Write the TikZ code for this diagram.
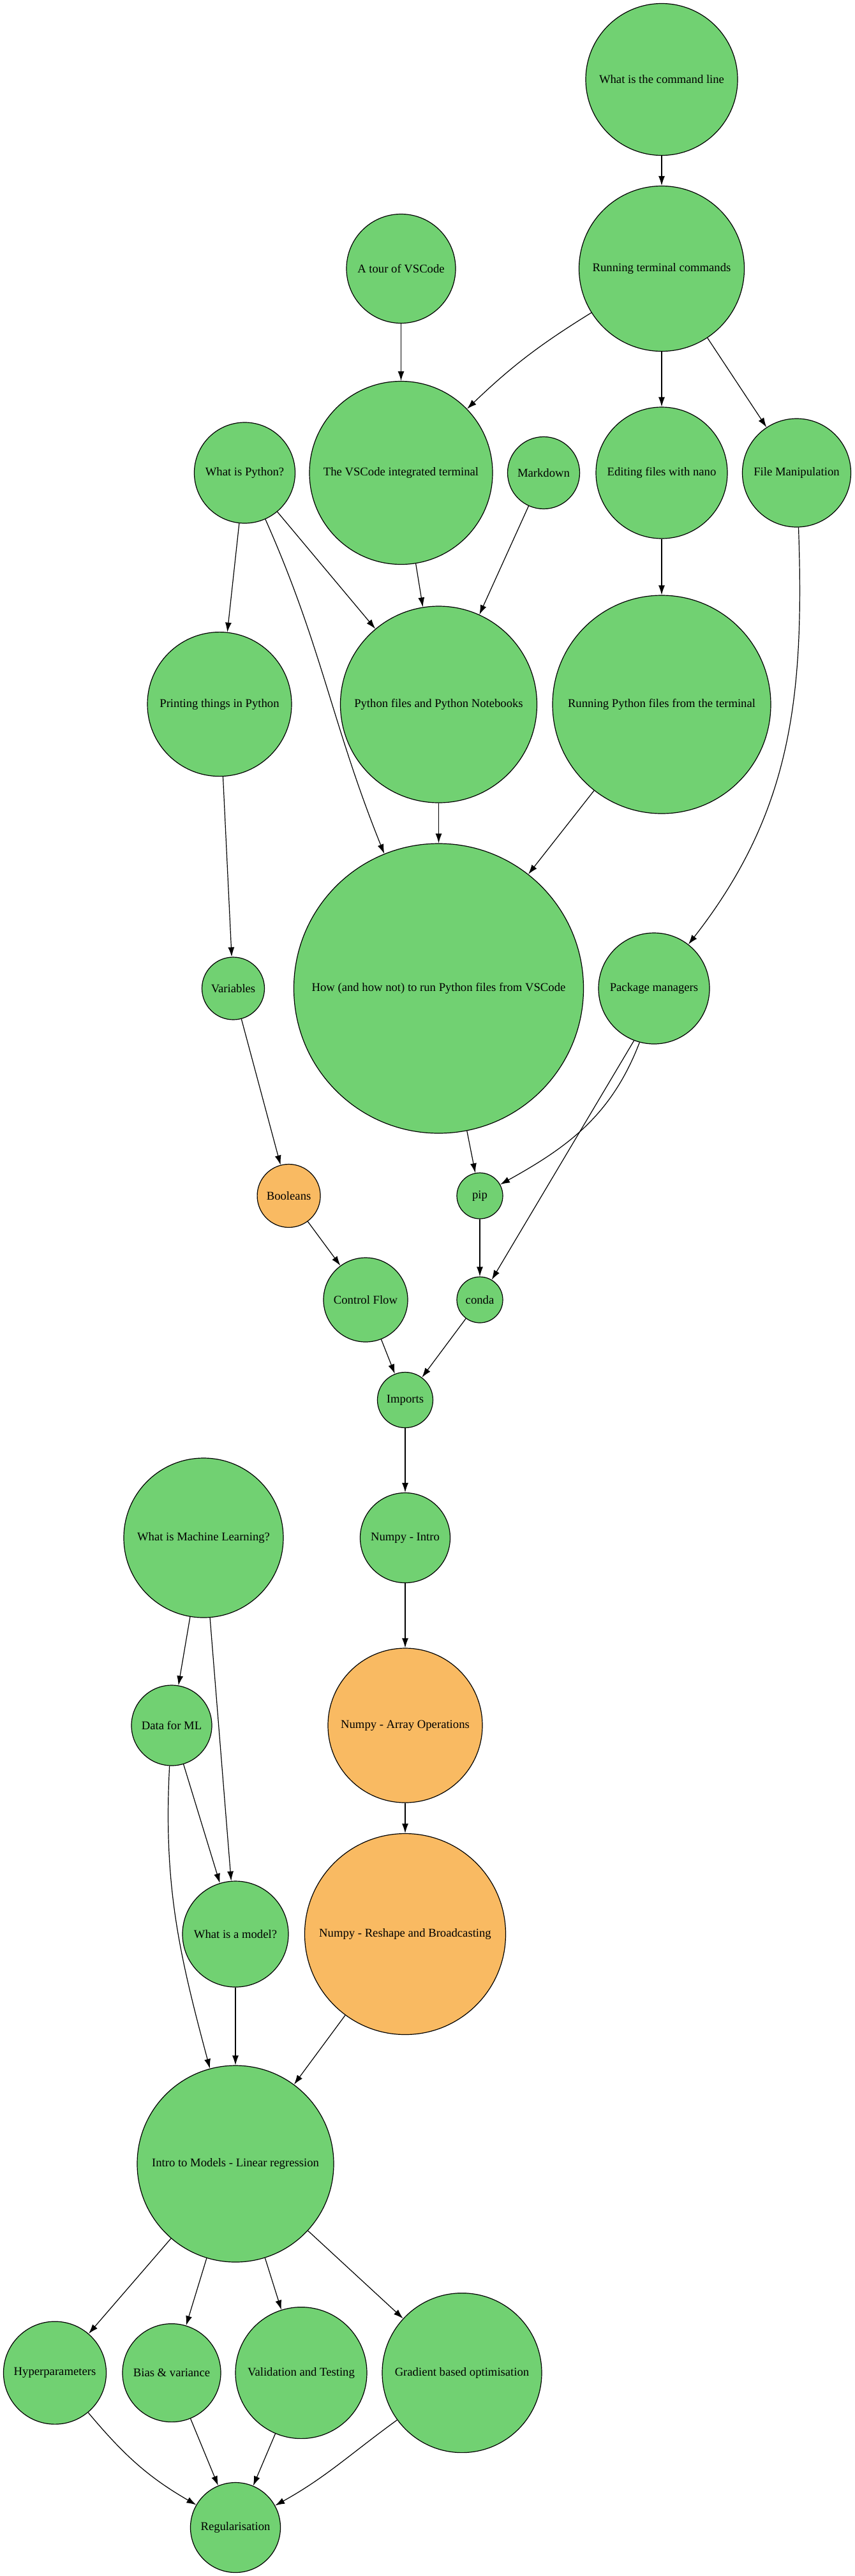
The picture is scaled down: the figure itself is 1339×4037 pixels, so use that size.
\documentclass[tikz,border=0pt]{standalone}
\usepackage{fontspec}
\setmainfont{Liberation Serif}
\usepackage{tikz}
\usetikzlibrary{shapes,arrows.meta}
\definecolor{topicgreen}{RGB}{113,209,114}
\definecolor{topicorange}{RGB}{249,186,98}
\tikzstyle{topic} = [circle, draw, fill=topicgreen, text centered, inner sep=0pt, line width=1.2pt,
font=\fontsize{18.67}{22}\selectfont]
\tikzstyle{optional} = [topic, fill=topicorange]
\tikzstyle{line} = [draw, line width=1.2pt, -{Latex[length=15pt,width=10pt]}]

\begin{document}
\begin{tikzpicture}[node distance=200pt, auto]
			\useasboundingbox (0,0) rectangle (1339pt,-4037pt);
			% command line and editor
			\node [topic, minimum size=238pt] (cmdline) at (1037pt,-124.5pt) {What is the command line};
			\node [topic, below of=cmdline, minimum size=259pt, node distance=296.5pt] (runterm) {Running terminal commands};
			\node [topic, below of=runterm, minimum size=206pt, node distance=320pt] (nano) {Editing files with nano};
			\node [topic, below of=nano, minimum size=342pt, node distance=363pt] (runpy) {Running Python files from the terminal};
			\node [topic, right of=nano, minimum size=170pt, node distance=211.5pt] (fileman) {File Manipulation};
			\node [topic, left of=runterm, minimum size=171pt, node distance=408.5pt] (tour) {A tour of VSCode};
			\node [topic, below of=tour, minimum size=287pt, node distance=320pt] (vsterm) {The VSCode integrated terminal};
			\node [topic, left of=vsterm, minimum size=158pt, node distance=245pt] (whatpy) {What is Python?};
			\node [topic, right of=vsterm, minimum size=113pt, node distance=223.5pt] (markdown) {Markdown};
			% python basics
			\node [topic, minimum size=226pt] (printing) at (344pt,-1103.6pt) {Printing things in Python};
			\node [topic, left of=runpy, minimum size=308pt, node distance=349.5pt] (pyfiles) {Python files and Python Notebooks};
			\node [topic, below of=pyfiles, minimum size=454pt, node distance=445pt] (howrun) {How (and how not) to run Python files from VSCode};
			\node [topic, left of=howrun, minimum size=98pt, node distance=322pt] (variables) {Variables};
			\node [topic, right of=howrun, minimum size=174pt, node distance=337.5pt] (pkgmgr) {Package managers};
			\node [optional, minimum size=99pt] (booleans) at (452.6pt,-1874pt) {Booleans};
			\node [topic, minimum size=72pt] (pip) at (752pt,-1874pt) {pip};
			\node [topic, below of=pip, minimum size=72pt, node distance=163pt] (conda) {conda};
			\node [topic, left of=conda, minimum size=132pt, node distance=179pt] (control) {Control Flow};
			\node [topic, minimum size=87pt] (imports) at (635pt,-2194pt) {Imports};
			% numpy and machine learning
			\node [topic, below of=imports, minimum size=141pt, node distance=216pt] (npintro) {Numpy - Intro};
			\node [topic, left of=npintro, minimum size=250pt, node distance=316pt] (whatml) {What is Machine Learning?};
			\node [optional, below of=npintro, minimum size=242pt, node distance=294pt] (nparray) {Numpy - Array Operations};
			\node [topic, left of=nparray, minimum size=126pt, node distance=366pt] (dataml) {Data for ML};
			\node [optional, below of=nparray, minimum size=315pt, node distance=327pt] (npreshape) {Numpy - Reshape and Broadcasting};
			\node [topic, left of=npreshape, minimum size=166pt, node distance=266pt] (model) {What is a model?};
			\node [topic, below of=model, minimum size=308pt, node distance=360pt] (linreg) {Intro to Models - Linear regression};
			\node [topic, minimum size=206pt] (valid) at (472pt,-3718.6pt) {Validation and Testing};
			\node [topic, left of=valid, minimum size=154pt, node distance=203pt] (bias) {Bias \& variance};
			\node [topic, left of=bias, minimum size=161pt, node distance=183pt] (hyper) {Hyperparameters};
			\node [topic, right of=valid, minimum size=250pt, node distance=252pt] (gradient) {Gradient based optimisation};
			\node [topic, below of=linreg, minimum size=141pt, node distance=570pt] (regul) {Regularisation};
			% edges
			\path [line] (cmdline) -- (runterm);
			\path [line] (runterm) to[bend right=6] (vsterm);
			\path [line] (runterm) -- (nano);
			\path [line] (runterm) -- (fileman);
			\path [line] (tour) -- (vsterm);
			\path [line] (whatpy) -- (printing);
			\path [line] (whatpy) -- (pyfiles);
			\path [line] (whatpy) to[out=-66, in=112] (howrun);
			\path [line] (vsterm) -- (pyfiles);
			\path [line] (markdown) -- (pyfiles);
			\path [line] (nano) -- (runpy);
			\path [line] (fileman) to[out=-88, in=52] (pkgmgr);
			\path [line] (printing) -- (variables);
			\path [line] (pyfiles) -- (howrun);
			\path [line] (runpy) -- (howrun);
			\path [line] (variables) -- (booleans);
			\path [line] (howrun) -- (pip);
			\path [line] (pkgmgr.-105) to[out=-111, in=29] (pip);
			\path [line] (pkgmgr.-111) -- (conda);
			\path [line] (pip) -- (conda);
			\path [line] (booleans) -- (control);
			\path [line] (control) -- (imports);
			\path [line] (conda) -- (imports);
			\path [line] (imports) -- (npintro);
			\path [line] (npintro) -- (nparray);
			\path [line] (nparray) -- (npreshape);
			\path [line] (whatml) -- (dataml);
			\path [line] (whatml) -- (model);
			\path [line] (dataml) -- (model);
			\path [line] (dataml) to[out=-93, in=105] (linreg);
			\path [line] (model) -- (linreg);
			\path [line] (npreshape) -- (linreg);
			\path [line] (linreg) -- (hyper);
			\path [line] (linreg) -- (bias);
			\path [line] (linreg) -- (valid);
			\path [line] (linreg) -- (gradient);
			\path [line] (hyper) to[out=-50, in=150] (regul);
			\path [line] (bias) -- (regul);
			\path [line] (valid) -- (regul);
			\path [line] (gradient) to[out=-144, in=29] (regul);
		\end{tikzpicture}
\end{document}
